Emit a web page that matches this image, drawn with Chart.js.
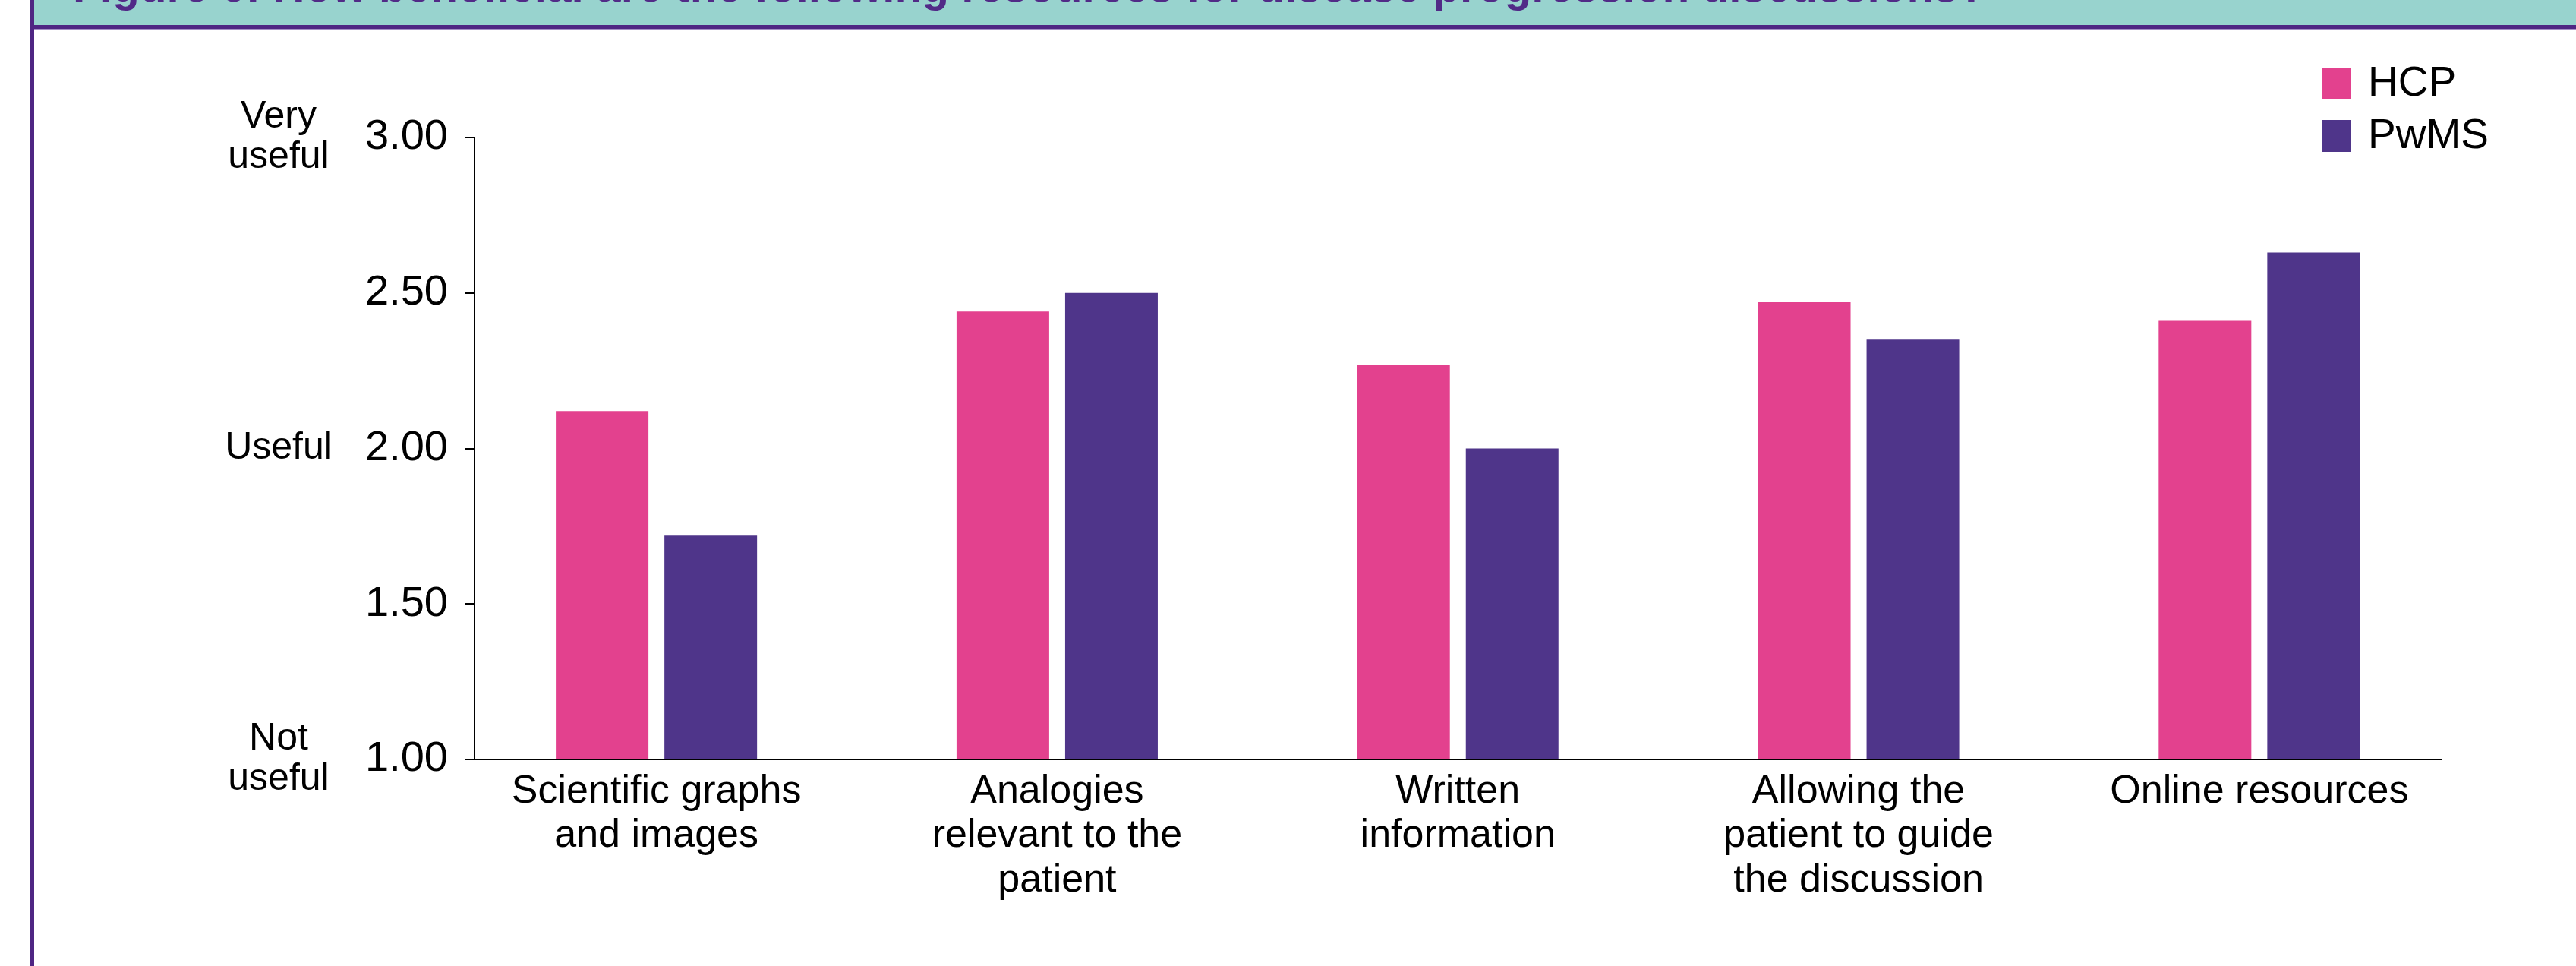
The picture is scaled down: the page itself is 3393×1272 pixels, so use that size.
<!DOCTYPE html>
<html>
<head>
<meta charset="utf-8">
<title>Figure 6</title>
<script src="https://cdn.jsdelivr.net/npm/chart.js@4.4.1/dist/chart.umd.min.js"></script>
<style>
    html, body { margin: 0; padding: 0; background: #fff; }
    #page { position: relative; width: 3393px; height: 1272px; overflow: hidden; background: #fff; }
    #leftRule { position: absolute; left: 39px; top: 0; width: 6px; height: 1272px; background: #4F2683; }
    #banner { position: absolute; left: 45px; top: 0; right: 0; height: 33px; background: #98D3CE; overflow: hidden; }
    #bannerRule { position: absolute; left: 39px; top: 33px; right: 0; height: 5px; background: #4F2683; border-bottom: 1px solid #A48FC4; }
    #title {
        position: absolute; left: 51px; top: -47px; white-space: nowrap;
        font: bold 58.5px/58.5px "Liberation Sans", Arial, sans-serif; color: #512A87;
    }
    #chart { position: absolute; left: 0; top: 0; }
</style>
</head>
<body>
<div id="page">
    <canvas id="chart" width="3393" height="1272"></canvas>
    <div id="banner"><div id="title">Figure 6: How beneficial are the following resources for disease progression discussions?</div></div>
    <div id="bannerRule"></div>
    <div id="leftRule"></div>
</div>

<script>
// data
const categories = [
    ['Scientific graphs', 'and images'],
    ['Analogies', 'relevant to the', 'patient'],
    ['Written', 'information'],
    ['Allowing the', 'patient to guide', 'the discussion'],
    ['Online resources']
];
const seriesNames = ['HCP', 'PwMS'];
const hcpValues = [2.12, 2.44, 2.27, 2.47, 2.41];
const pwmsValues = [1.72, 2.50, 2.00, 2.35, 2.63];
const yTicks = [1.00, 1.50, 2.00, 2.50, 3.00];
const sideLabelValues = [3, 2, 1];
const sideLabelLines = [['Very', 'useful'], ['Useful'], ['Not', 'useful']];

const colors = ['#E3418E', '#4F358A'];
const fontFamily = '"Liberation Sans", Arial, sans-serif';

// categories sit on 1..n of a linear x scale
function toPoints(values) {
    return values.map((v, i) => ({ x: i + 1, y: v }));
}

// "Very useful" / "Useful" / "Not useful" next to the y ticks
const sideLabels = {
    id: 'sideLabels',
    afterDraw(chart, args, opts) {
        const ctx = chart.ctx;
        const yScale = chart.scales.y;
        ctx.save();
        ctx.font = opts.size + 'px ' + fontFamily;
        ctx.fillStyle = '#000';
        ctx.textAlign = 'center';
        ctx.textBaseline = 'middle';
        sideLabelValues.forEach((v, i) => {
            const lines = sideLabelLines[i];
            const yMid = yScale.getPixelForValue(v);
            const start = yMid - (lines.length - 1) * opts.lineHeight / 2;
            lines.forEach((line, j) => {
                ctx.fillText(line, opts.x, start + j * opts.lineHeight);
            });
        });
        ctx.restore();
    }
};

// legend stacked in the top right corner
const cornerLegend = {
    id: 'cornerLegend',
    afterDraw(chart, args, opts) {
        const ctx = chart.ctx;
        ctx.save();
        ctx.font = opts.size + 'px ' + fontFamily;
        ctx.textAlign = 'left';
        ctx.textBaseline = 'middle';
        chart.data.datasets.forEach((ds, i) => {
            const top = opts.y + i * opts.rowGap;
            ctx.fillStyle = ds.backgroundColor;
            ctx.fillRect(opts.x, top, opts.boxW, opts.boxH);
            ctx.fillStyle = '#000';
            ctx.fillText(ds.label, opts.x + opts.boxW + opts.textGap, top + opts.boxH / 2 + 1);
        });
        ctx.restore();
    }
};

const ctx = document.getElementById('chart').getContext('2d');
new Chart(ctx, {
    type: 'bar',
    data: {
        datasets: [
            {
                label: seriesNames[0],
                data: toPoints(hcpValues),
                backgroundColor: colors[0],
                categoryPercentage: 0.542,
                barPercentage: 0.853
            },
            {
                label: seriesNames[1],
                data: toPoints(pwmsValues),
                backgroundColor: colors[1],
                categoryPercentage: 0.542,
                barPercentage: 0.853
            }
        ]
    },
    options: {
        responsive: false,
        devicePixelRatio: 1,
        animation: false,
        layout: {
            padding: { top: 181, right: 177, bottom: 0, left: 0 }
        },
        plugins: {
            legend: { display: false },
            tooltip: { enabled: false },
            sideLabels: { x: 367, size: 50, lineHeight: 53 },
            cornerLegend: { x: 3059, y: 89, boxW: 38, boxH: 42, rowGap: 69, textGap: 22, size: 55 }
        },
        scales: {
            x: {
                type: 'linear',
                bounds: 'data',
                offset: false,
                min: 0.546,
                max: 5.455,
                afterBuildTicks: (scale) => {
                    scale.ticks = categories.map((c, i) => ({ value: i + 1 }));
                },
                afterFit: (scale) => { scale.height = 272; },
                grid: { display: false, drawTicks: false, offset: false },
                border: { display: true, color: '#000', width: 2 },
                ticks: {
                    autoSkip: false,
                    maxRotation: 0,
                    padding: 13,
                    color: '#000',
                    font: { family: fontFamily, size: 52, lineHeight: 1.125 },
                    callback: (value) => categories[Math.round(value) - 1]
                }
            },
            y: {
                min: 1,
                max: 3,
                afterBuildTicks: (scale) => {
                    scale.ticks = yTicks.map(v => ({ value: v }));
                },
                afterFit: (scale) => { scale.width = 625; },
                grid: {
                    display: true,
                    drawOnChartArea: false,
                    drawTicks: true,
                    tickLength: 13,
                    color: '#000',
                    lineWidth: 2
                },
                border: { display: true, color: '#000', width: 2 },
                ticks: {
                    padding: 22,
                    color: '#000',
                    font: { family: fontFamily, size: 56 },
                    callback: (value) => Number(value).toFixed(2)
                }
            }
        }
    },
    plugins: [sideLabels, cornerLegend]
});
</script>
</body>
</html>
